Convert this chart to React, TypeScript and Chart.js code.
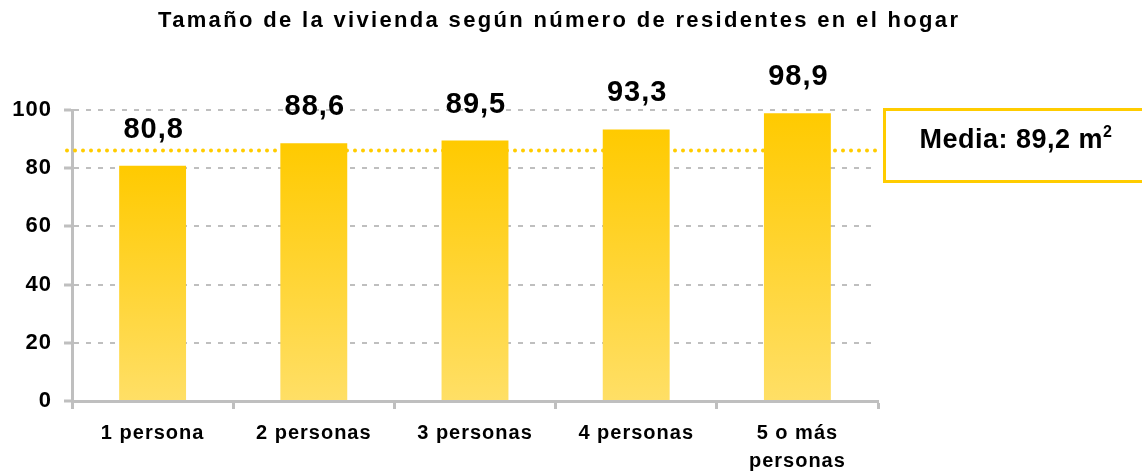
import { useEffect, useRef } from "react";
import { Chart, registerables } from "chart.js";

Chart.register(...registerables);

const TITLE = "Tamaño de la vivienda según número de residentes en el hogar";
const CATEGORIES: (string | string[])[] = [
  "1 persona",
  "2 personas",
  "3 personas",
  "4 personas",
  ["5 o más", "personas"],
];
const VALUES = [80.8, 88.6, 89.5, 93.3, 98.9];
const VALUE_LABELS = ["80,8", "88,6", "89,5", "93,3", "98,9"];
const MEAN_LINE_VALUE = 86.1;
const MEAN_TEXT = "Media: 89,2 m";
const MEAN_SUP = "2";
const Y_MIN = 0;
const Y_MAX = 100;
const Y_STEP = 20;

const FONT = '"Liberation Sans", Arial, Helvetica, sans-serif';
const YELLOW = "#FFCC00";
const GRID = "#BFBFBF";

const decorPlugin = {
  id: "decor",
  beforeDraw(chart: any) {
    const ctx = chart.ctx as CanvasRenderingContext2D;
    ctx.save();
    ctx.fillStyle = "#000";
    ctx.font = `bold 22px ${FONT}`;
    ctx.textAlign = "left";
    ctx.textBaseline = "alphabetic";
    (ctx as any).letterSpacing = "0px";
    const w = ctx.measureText(TITLE).width;
    const target = 800;
    const ls = Math.max(0, (target - w) / (TITLE.length - 1));
    (ctx as any).letterSpacing = `${ls}px`;
    ctx.fillText(TITLE, 158, 27);
    ctx.restore();
    (ctx as any).letterSpacing = "1px";
  },
  beforeDatasetsDraw(chart: any) {
    const ctx = chart.ctx as CanvasRenderingContext2D;
    const area = chart.chartArea;
    const y = Math.round(chart.scales.y.getPixelForValue(MEAN_LINE_VALUE)) + 0.5;
    ctx.save();
    (ctx as any).letterSpacing = "0px";
    ctx.strokeStyle = YELLOW;
    ctx.lineWidth = 4;
    ctx.lineCap = "round";
    ctx.setLineDash([0, 8]);
    ctx.beginPath();
    ctx.moveTo(area.left - 5, y);
    ctx.lineTo(area.right, y);
    ctx.stroke();
    ctx.restore();
  },
  afterDatasetsDraw(chart: any) {
    const ctx = chart.ctx as CanvasRenderingContext2D;
    const meta = chart.getDatasetMeta(0);
    ctx.save();
    ctx.fillStyle = "#000";
    ctx.font = `bold 29px ${FONT}`;
    ctx.textAlign = "center";
    ctx.textBaseline = "middle";
    (ctx as any).letterSpacing = "1px";
    meta.data.forEach((bar: any, i: number) => {
      ctx.fillText(VALUE_LABELS[i], bar.x + 1, bar.y - 36);
    });
    ctx.restore();
  },
  afterDraw(chart: any) {
    const ctx = chart.ctx as CanvasRenderingContext2D;
    const area = chart.chartArea;
    ctx.save();
    (ctx as any).letterSpacing = "0px";
    const bx = area.right + 6.5;
    const by = area.top - 0.5;
    const bw = chart.width - bx + 10;
    const bh = 72;
    ctx.strokeStyle = YELLOW;
    ctx.lineWidth = 3;
    ctx.strokeRect(bx, by, bw, bh);

    ctx.fillStyle = "#000";
    ctx.font = `bold 27px ${FONT}`;
    ctx.textBaseline = "alphabetic";
    ctx.textAlign = "left";
    (ctx as any).letterSpacing = "0.5px";
    const mainW = ctx.measureText(MEAN_TEXT).width;
    ctx.font = `bold 16px ${FONT}`;
    const supW = ctx.measureText(MEAN_SUP).width;
    const total = mainW + supW;
    const cx = 1016;
    const startX = cx - total / 2;
    ctx.font = `bold 27px ${FONT}`;
    ctx.fillText(MEAN_TEXT, startX, 148);
    ctx.font = `bold 16px ${FONT}`;
    ctx.fillText(MEAN_SUP, startX + mainW, 137);
    ctx.restore();
    (ctx as any).letterSpacing = "0px";
  },
};

function BarChart() {
  const canvasRef = useRef<HTMLCanvasElement | null>(null);

  useEffect(() => {
    const canvas = canvasRef.current;
    if (!canvas) return;
    const chart = new Chart(canvas, {
      type: "bar",
      data: {
        labels: CATEGORIES as any,
        datasets: [
          {
            data: VALUES,
            borderWidth: 0,
            barPercentage: 0.415,
            categoryPercentage: 1,
            backgroundColor: (c: any) => {
              const ch = c.chart;
              const ys = ch.scales && ch.scales.y;
              if (!ys || c.type !== "data" || !ch.chartArea) return "#FFD21F";
              const top = ys.getPixelForValue(c.raw);
              const bottom = ys.getPixelForValue(0);
              const g = ch.ctx.createLinearGradient(0, top, 0, bottom);
              g.addColorStop(0, "#FFCA00");
              g.addColorStop(1, "#FFDF66");
              return g;
            },
          },
        ],
      },
      options: {
        responsive: false,
        animation: false,
        devicePixelRatio: 1,
        layout: { padding: { top: 110, right: 264, left: 0, bottom: 0 } },
        plugins: {
          legend: { display: false },
          tooltip: { enabled: false },
          title: { display: false },
        },
        scales: {
          x: {
            offset: true,
            afterFit: (s: any) => {
              s.height = 71;
            },
            grid: {
              display: true,
              offset: true,
              drawOnChartArea: false,
              drawTicks: true,
              tickLength: 8,
              tickWidth: 3,
              tickColor: GRID,
            },
            border: { display: true, color: GRID, width: 3 },
            ticks: {
              color: "#000",
              font: { family: FONT, size: 20, weight: "bold", lineHeight: 1.4 },
              padding: 10,
              maxRotation: 0,
              autoSkip: false,
            },
          },
          y: {
            min: Y_MIN,
            max: Y_MAX,
            afterFit: (s: any) => {
              s.width = 72;
            },
            grid: {
              display: true,
              color: GRID,
              lineWidth: 2,
              drawTicks: true,
              tickLength: 8,
              tickWidth: 3,
              tickColor: GRID,
              tickBorderDash: [],
            },
            border: { display: true, color: GRID, width: 3, dash: [5, 7] },
            ticks: {
              stepSize: Y_STEP,
              color: "#000",
              font: { family: FONT, size: 22, weight: "bold" },
              padding: 12,
            },
          },
        },
      },
      plugins: [decorPlugin],
    });
    return () => {
      chart.destroy();
    };
  }, []);

  return <canvas ref={canvasRef} width={1142} height={472} style={{ display: "block" }} />;
}

export default function App() {
  return (
    <div
      style={{
        position: "absolute",
        left: 0,
        top: 0,
        width: 1142,
        height: 472,
        background: "#fff",
        overflow: "hidden",
      }}
    >
      <BarChart />
    </div>
  );
}
